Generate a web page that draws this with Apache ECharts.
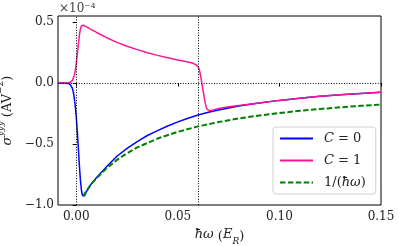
<!DOCTYPE html>
<html>
<head>
<meta charset="utf-8">
<script src="https://cdn.jsdelivr.net/npm/echarts@6/dist/echarts.min.js"></script>
<style>
html,body{margin:0;padding:0;background:#fff;}
#chart{width:399px;height:246px;}
</style>
</head>
<body>
<div id="chart"></div>
<script>
// ---- data (units of 1e-4 A V^-2 on y, E_R on x) ----
var c0X = [-0.009, -0.006, -0.004, -0.003, -0.002, -0.0015, -0.001, -0.0005, 0, 0.0005, 0.001, 0.0015, 0.002, 0.0025, 0.003, 0.0035, 0.004, 0.005, 0.007, 0.01, 0.015, 0.02, 0.025, 0.03, 0.035, 0.04, 0.045, 0.05, 0.055, 0.06, 0.065, 0.07, 0.075, 0.08, 0.09, 0.10, 0.11, 0.12, 0.13, 0.14, 0.15];
var c0Y = [0, 0, -0.003, -0.012, -0.04, -0.07, -0.12, -0.19, -0.28, -0.4, -0.53, -0.67, -0.79, -0.875, -0.92, -0.93, -0.925, -0.89, -0.835, -0.775, -0.685, -0.6, -0.535, -0.48, -0.43, -0.39, -0.352, -0.318, -0.289, -0.262, -0.24, -0.221, -0.204, -0.189, -0.163, -0.142, -0.124, -0.109, -0.096, -0.085, -0.075];

var c1X = [-0.009, -0.006, -0.004, -0.003, -0.002, -0.0015, -0.001, -0.0005, 0, 0.0005, 0.001, 0.0015, 0.002, 0.0025, 0.003, 0.0035, 0.004, 0.005, 0.007, 0.01, 0.015, 0.02, 0.025, 0.03, 0.035, 0.04, 0.045, 0.05, 0.055, 0.057, 0.058, 0.059, 0.06, 0.0605, 0.061, 0.0615, 0.062, 0.0625, 0.063, 0.0635, 0.064, 0.0645, 0.065, 0.066, 0.068, 0.07, 0.075, 0.08, 0.085, 0.09, 0.10, 0.11, 0.12, 0.13, 0.14, 0.15];
var c1Y = [0, 0, 0.002, 0.006, 0.02, 0.035, 0.06, 0.1, 0.16, 0.235, 0.315, 0.39, 0.44, 0.468, 0.476, 0.474, 0.47, 0.461, 0.443, 0.415, 0.372, 0.334, 0.302, 0.274, 0.249, 0.227, 0.208, 0.19, 0.172, 0.164, 0.158, 0.149, 0.132, 0.112, 0.077, 0.03, -0.02, -0.07, -0.12, -0.165, -0.2, -0.218, -0.226, -0.226, -0.218, -0.209, -0.195, -0.184, -0.173, -0.163, -0.142, -0.124, -0.109, -0.096, -0.085, -0.075];

var invX = [0.0033, 0.005, 0.0075, 0.01, 0.015, 0.02, 0.025, 0.03, 0.04, 0.05, 0.06, 0.07, 0.08, 0.09, 0.10, 0.11, 0.12, 0.13, 0.14, 0.15];
var invY = [-0.93, -0.885, -0.825, -0.78, -0.697, -0.63, -0.575, -0.528, -0.455, -0.4, -0.355, -0.32, -0.29, -0.266, -0.246, -0.228, -0.212, -0.199, -0.187, -0.176];

var guideX = [0, 0.062];
var guideY = [0];

var xTicks = [0, 0.05, 0.10, 0.15];
var yTicks = [-1.0, -0.5, 0.0, 0.5];
var seriesNames = ['C = 0', 'C = 1', '1/(ħω)'];

function pairs(xs, ys) { return xs.map(function (x, i) { return [x, ys[i]]; }); }

var serif = 'DejaVu Serif';
var chart = echarts.init(document.getElementById('chart'), null, {renderer: 'canvas'});
var markData = guideX.map(function (v) { return {xAxis: v}; }).concat(guideY.map(function (v) { return {yAxis: v}; }));

chart.setOption({
  animation: false,
  backgroundColor: '#fff',
  grid: {left: 58, right: 18, top: 16, bottom: 41, containLabel: false, outerBoundsMode: 'none',
    show: true, borderColor: '#000', borderWidth: 1, backgroundColor: 'transparent'},
  xAxis: {
    type: 'value', min: -0.009, max: 0.15,
    axisLine: {show: false},
    splitLine: {show: false},
    axisTick: {show: true, inside: false, length: 3.5, lineStyle: {color: '#000', width: 1}, customValues: xTicks},
    axisLabel: {customValues: xTicks, margin: 6, color: '#222', fontFamily: serif, fontSize: 12,
      formatter: function (v) { return v.toFixed(2); }},
    name: '{it|ħω} ({it|E}{sub|R})',
    nameLocation: 'middle', nameGap: 20,
    nameTextStyle: {color: '#222', fontFamily: serif, fontSize: 13,
      rich: {
        it: {fontFamily: serif, fontStyle: 'italic', fontSize: 13, color: '#222', lineHeight: 18, verticalAlign: 'top'},
        sub: {fontFamily: serif, fontStyle: 'italic', fontSize: 9, color: '#222', lineHeight: 10, verticalAlign: 'bottom'}
      }}
  },
  yAxis: {
    type: 'value', min: -1.0, max: 0.55,
    axisLine: {show: false},
    splitLine: {show: false},
    axisTick: {show: true, inside: false, length: 3.5, lineStyle: {color: '#000', width: 1}, customValues: yTicks},
    axisLabel: {customValues: yTicks, margin: 4, color: '#222', fontFamily: serif, fontSize: 12,
      formatter: function (v) { return v.toFixed(1).replace('-', '\u2212'); }},
    name: '{it|σ}{sup|yyy}{n| (AV}{sup2|−2}{n|)}',
    nameLocation: 'middle', nameGap: 29, nameRotate: 90,
    nameTextStyle: {color: '#222', fontFamily: serif, fontSize: 13,
      rich: {
        it: {fontFamily: serif, fontStyle: 'italic', fontSize: 13, color: '#222', lineHeight: 18, verticalAlign: 'bottom'},
        n: {fontFamily: serif, fontSize: 13, color: '#222', lineHeight: 18, verticalAlign: 'bottom'},
        sup: {fontFamily: serif, fontStyle: 'italic', fontSize: 9, color: '#222', lineHeight: 10, verticalAlign: 'top'},
        sup2: {fontFamily: serif, fontSize: 9, color: '#222', lineHeight: 10, verticalAlign: 'top'}
      }}
  },
  legend: {
    data: seriesNames,
    orient: 'vertical', left: 273, top: 127,
    itemWidth: 33, itemHeight: 14, itemGap: 9,
    padding: [5, 10, 5, 6],
    backgroundColor: 'rgba(255,255,255,0.85)',
    borderColor: '#d0d0d0', borderWidth: 1, borderRadius: 3,
    itemStyle: {opacity: 0},
    lineStyle: {opacity: 1},
    formatter: function (name) {
      if (name === 'C = 0') return '{it|C} = 0';
      if (name === 'C = 1') return '{it|C} = 1';
      return '1/({it|ħω})';
    },
    textStyle: {fontFamily: serif, fontSize: 13, color: '#222', padding: [0, 0, 0, 6],
      rich: {it: {fontFamily: serif, fontStyle: 'italic', fontSize: 13, color: '#222'}}}
  },
  graphic: [{
    type: 'text', left: 59, top: 3,
    style: {text: '×10⁻⁴', font: '12px "DejaVu Serif"', fill: '#444'}
  }],
  series: [
    {
      name: 'guides', type: 'line', data: [], z: 1, silent: true,
      markLine: {silent: true, symbol: 'none', animation: false,
        label: {show: false},
        lineStyle: {color: '#000', type: [1, 1.6], width: 1},
        emphasis: {disabled: true},
        data: markData}
    },
    {
      name: seriesNames[0], type: 'line', data: pairs(c0X, c0Y), z: 3,
      symbol: 'none', smooth: false,
      lineStyle: {color: '#0000ff', width: 1.5}, itemStyle: {color: '#0000ff'}
    },
    {
      name: seriesNames[1], type: 'line', data: pairs(c1X, c1Y), z: 4,
      symbol: 'none', smooth: false,
      lineStyle: {color: '#ff1493', width: 1.5}, itemStyle: {color: '#ff1493'}
    },
    {
      name: seriesNames[2], type: 'line', data: pairs(invX, invY), z: 5,
      symbol: 'none', smooth: false,
      lineStyle: {color: '#008000', width: 2, type: [5.5, 2.4]}, itemStyle: {color: '#008000'}
    }
  ]
});
</script>
</body>
</html>
